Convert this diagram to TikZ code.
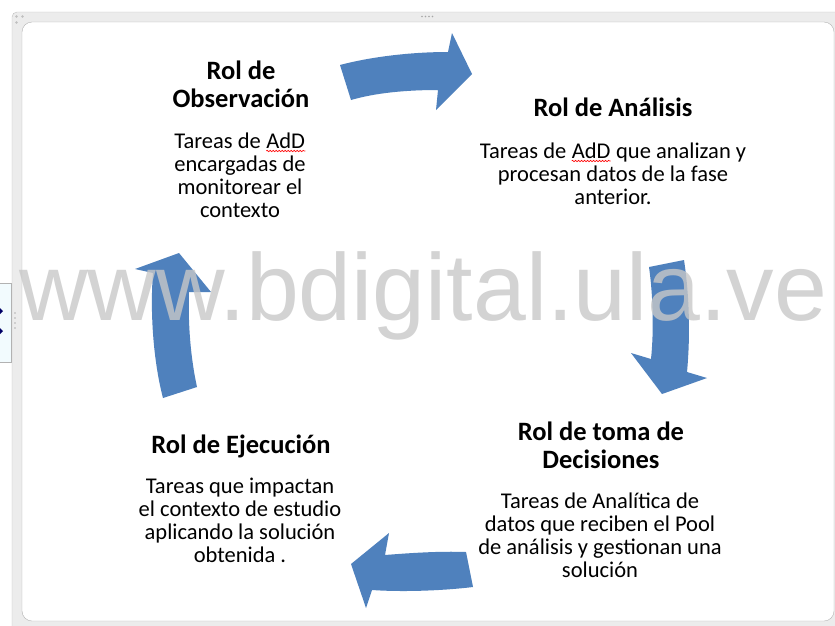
\documentclass[tikz,border=0pt]{standalone}
\usepackage{fontspec}
\setmainfont{Carlito}
\newfontfamily\markfont{Liberation Sans}
\usetikzlibrary{decorations.pathmorphing}
\definecolor{arrowblue}{RGB}{79,129,189}
\definecolor{markgray}{RGB}{200,200,200}
\definecolor{framegray}{RGB}{236,236,236}
\newcommand\redwave[1]{\tikz[baseline=(wv.base)]{\node[inner sep=0] (wv) {#1};
	\draw[red, line width=0.6pt, decorate, decoration={snake, amplitude=0.7pt, segment length=3pt}] ([yshift=-3pt]wv.base west) -- ([yshift=-3pt]wv.base east);}}

\begin{document}
\begin{tikzpicture}[x=1pt,y=-1pt,
	titletext/.style={font=\bfseries\fontsize{26.5}{28}\selectfont, align=center, inner sep=0},
	bodytext/.style={font=\fontsize{22.5}{23}\selectfont, align=center, inner sep=0}]
			%%%%% FRAME %%%%%
			\useasboundingbox (0,0) rectangle (835,625);
			\draw[black!25, fill=framegray, rounded corners=5pt] (12,12) rectangle (870,650);
			\draw[black!30, fill=white, rounded corners=10pt] (22,22) rectangle (834,621);
			\foreach \dx in {0,3.5,7,10.5}
				\fill[black!35] (422+\dx,16.5) circle (0.9);
			\foreach \p in {(16.5,16.5),(22.5,16.5),(16.5,22.5)}
				\fill[black!25] \p circle (1.3);
			\draw[black!30, fill=cyan!5] (-1,283) rectangle (11,362);
			\fill[blue!40!black] (0,308) -- (3,311) -- (0,314) -- cycle;
			\fill[blue!40!black] (0,328) -- (3,331) -- (0,334) -- cycle;
			\foreach \dy in {0,5,10,15}
				\fill[black!30] (15,313+\dy) circle (0.9);
			
			%%%%% TEXT (anchored at last baseline) %%%%%
			\node[titletext, anchor=base] (obstitle) at (241,107) {Rol de\\Observación};
			\node[bodytext, anchor=base] (obsbody) at (240,217) {Tareas de \redwave{AdD}\\encargadas de\\monitorear el\\contexto};
			
			\node[titletext, anchor=base] (anatitle) at (613,116) {Rol de Análisis};
			\node[bodytext, anchor=base] (anabody) at (613,204) {Tareas de \redwave{AdD} que analizan y\\procesan datos de la fase\\anterior.};
			
			\node[titletext, anchor=base] (dectitle) at (601,468) {Rol de toma de\\Decisiones};
			\node[bodytext, anchor=base] (decbody) at (600,577) {Tareas de Analítica de\\datos que reciben el Pool\\de análisis y gestionan una\\solución};
			
			\node[titletext, anchor=base] (ejetitle) at (241,453) {Rol de Ejecución};
			\node[bodytext, anchor=base] (ejebody) at (240,562) {Tareas que impactan\\el contexto de estudio\\aplicando la solución\\obtenida .};
			
			%%%%% ARROWS %%%%%
			\fill[arrowblue] (340,65) .. controls (370,57) and (410,52) .. (448,52) -- (452,33) -- (472,74) -- (436,110) -- (438,90) .. controls (405,90) and (375,93) .. (351,100) -- cycle;
			\fill[arrowblue] (684,260) .. controls (690,300) and (690,340) .. (687,372) -- (707,378) -- (662,394) -- (631,353) -- (651,359) .. controls (654,330) and (653,295) .. (649,267) -- cycle;
			\fill[arrowblue] (473,587) .. controls (440,591) and (400,592) .. (372,590) -- (366,608) -- (351,564) -- (389,533) -- (385,555) .. controls (410,553) and (440,551) .. (466,552) -- cycle;
			\fill[arrowblue] (163,398) .. controls (153,360) and (150,310) .. (153,273) -- (135,269) -- (179,253) -- (211,292) -- (189,292) .. controls (188,320) and (190,355) .. (197,387) -- cycle;
			
			%%%%% WATERMARK %%%%%
			\node[font=\markfont\fontsize{95}{95}\selectfont, text=markgray, opacity=0.8, anchor=base west, inner sep=0] (mark) at (19,320) {www.bdigital.ula.ve};
			%%%%% END %%%%%
		\end{tikzpicture}
\end{document}
